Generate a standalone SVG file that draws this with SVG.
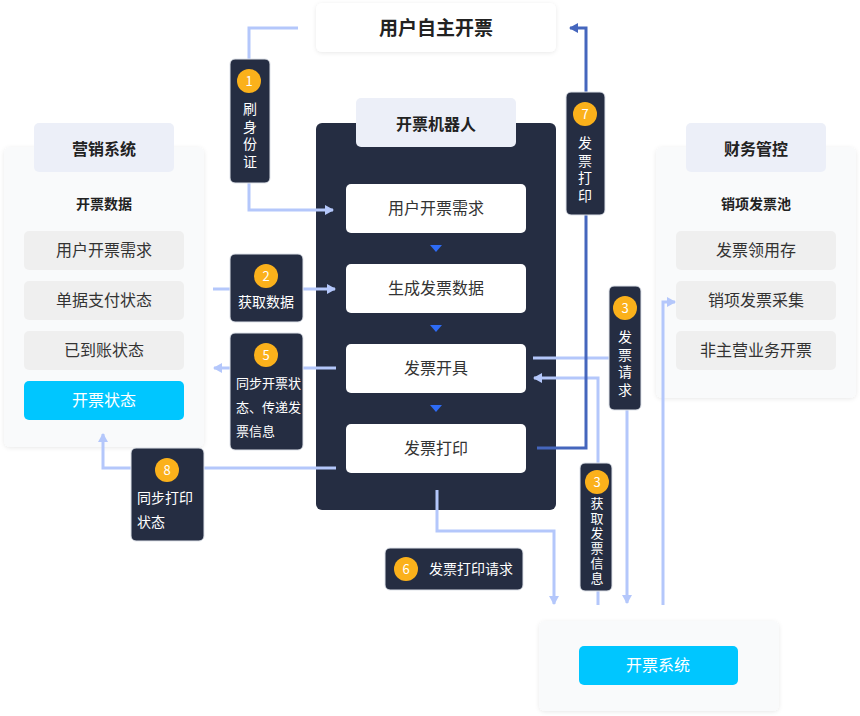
<svg xmlns="http://www.w3.org/2000/svg" width="860" height="716" viewBox="0 0 860 716">
<style>
text{font-family:"Noto Sans CJK SC","Noto Sans",sans-serif;}
.panel{fill:#f9fafb;}
.tab{fill:#eceff8;}
.item{fill:#efefef;}
.itemt{font-size:16px;fill:#333;text-anchor:middle;}
.cyan{fill:#00c6ff;}
.cyant{font-size:16px;fill:#fff;text-anchor:middle;}
.dark{fill:#252d42;}
.white{fill:#fff;}
.ht{font-size:16px;font-weight:bold;fill:#222;text-anchor:middle;}
.sub{font-size:14px;font-weight:bold;fill:#222;text-anchor:middle;}
.lbl{fill:#252d42;stroke:#dfe3ea;stroke-width:1;}
.num{fill:#fbb11b;}
.numt{font-size:13px;fill:#fff;text-anchor:middle;}
.lt{font-size:14px;fill:#fff;}
.lts{font-size:13px;fill:#fff;}
.vt{font-size:14px;fill:#fff;writing-mode:vertical-rl;letter-spacing:3.5px;}
.vts{font-size:13px;fill:#fff;writing-mode:vertical-rl;letter-spacing:2px;}
.tri{fill:#2e6cf6;}
.lb{fill:none;stroke:#b4c7fb;stroke-width:3;}
.db{fill:none;stroke:#4566bd;stroke-width:3;}
</style>
<defs>
<filter id="sh" x="-10%" y="-10%" width="120%" height="120%">
<feDropShadow dx="0" dy="1" stdDeviation="2" flood-color="#000" flood-opacity="0.09"/>
</filter>
<marker id="al" markerUnits="userSpaceOnUse" markerWidth="9" markerHeight="10" refX="8" refY="5" orient="auto">
<path d="M0,0 L9,5 L0,10 z" fill="#b4c7fb"/>
</marker>
<marker id="ad" markerUnits="userSpaceOnUse" markerWidth="9" markerHeight="10" refX="8" refY="5" orient="auto">
<path d="M0,0 L9,5 L0,10 z" fill="#4566bd"/>
</marker>
</defs>
<rect width="860" height="716" fill="#fff"/>

<g id="top">
<rect x="316" y="3" width="240" height="49" rx="6" class="white" filter="url(#sh)"/>
<text x="436" y="35" style="font-size:19px;font-weight:bold;fill:#222;text-anchor:middle">用户自主开票</text>
</g>

<g id="marketing">
<rect x="4" y="147" width="200" height="300" rx="6" class="panel" filter="url(#sh)"/>
<rect x="34" y="123" width="140" height="49" rx="5" class="tab"/>
<text x="104" y="155" class="ht">营销系统</text>
<text x="104" y="209" class="sub">开票数据</text>
<rect x="24" y="231" width="160" height="39" rx="5" class="item"/>
<text x="104" y="256" class="itemt">用户开票需求</text>
<rect x="24" y="281" width="160" height="39" rx="5" class="item"/>
<text x="104" y="306" class="itemt">单据支付状态</text>
<rect x="24" y="331" width="160" height="39" rx="5" class="item"/>
<text x="104" y="356" class="itemt">已到账状态</text>
<rect x="24" y="381" width="160" height="39" rx="5" class="cyan"/>
<text x="104" y="406" class="cyant">开票状态</text>
</g>

<g id="finance">
<rect x="656" y="147" width="200" height="251" rx="6" class="panel" filter="url(#sh)"/>
<rect x="686" y="123" width="140" height="49" rx="5" class="tab"/>
<text x="756" y="155" class="ht">财务管控</text>
<text x="756" y="209" class="sub">销项发票池</text>
<rect x="676" y="231" width="160" height="39" rx="5" class="item"/>
<text x="756" y="256" class="itemt">发票领用存</text>
<rect x="676" y="281" width="160" height="39" rx="5" class="item"/>
<text x="756" y="306" class="itemt">销项发票采集</text>
<rect x="676" y="331" width="160" height="39" rx="5" class="item"/>
<text x="756" y="356" class="itemt">非主营业务开票</text>
</g>

<g id="invoice-system">
<rect x="539" y="621" width="240" height="90" rx="6" class="panel" filter="url(#sh)"/>
<rect x="579" y="646" width="159" height="39" rx="5" class="cyan"/>
<text x="658" y="671" class="cyant">开票系统</text>
</g>

<g id="robot">
<rect x="316" y="123" width="240" height="387" rx="6" class="dark"/>
<rect x="356" y="98" width="160" height="49" rx="5" class="tab"/>
<text x="436" y="130" class="ht">开票机器人</text>
<rect x="346" y="184" width="180" height="49" rx="5" class="white"/>
<text x="436" y="214" class="itemt">用户开票需求</text>
<rect x="346" y="264" width="180" height="49" rx="5" class="white"/>
<text x="436" y="294" class="itemt">生成发票数据</text>
<rect x="346" y="344" width="180" height="49" rx="5" class="white"/>
<text x="436" y="374" class="itemt">发票开具</text>
<rect x="346" y="424" width="180" height="49" rx="5" class="white"/>
<text x="436" y="454" class="itemt">发票打印</text>
<path d="M430,245 H442 L436,252 z" class="tri"/>
<path d="M430,325 H442 L436,332 z" class="tri"/>
<path d="M430,405 H442 L436,412 z" class="tri"/>
</g>

<g id="connectors">
<path d="M298,28 H249 V210 H333" class="lb" marker-end="url(#al)"/>
<path d="M213,289 H335" class="lb" marker-end="url(#al)"/>
<path d="M336,368 H214" class="lb" marker-end="url(#al)"/>
<path d="M336,468 H103 V434" class="lb" marker-end="url(#al)"/>
<path d="M437,490 V531 H554 V604" class="lb" marker-end="url(#al)"/>
<path d="M533,358 H627 V603" class="lb" marker-end="url(#al)"/>
<path d="M598,605 V378 H534" class="lb" marker-end="url(#al)"/>
<path d="M663,605 V302 H675" class="lb" marker-end="url(#al)"/>
<path d="M537,448 H586 V28 H570" class="db" marker-end="url(#ad)"/>
</g>

<g id="label1">
<rect x="230" y="59" width="40" height="124" rx="5" class="lbl"/>
<circle cx="249" cy="81" r="12" class="num"/>
<text x="249" y="86" class="numt">1</text>
<text x="250" y="102" class="vt">刷身份证</text>
</g>

<g id="label2">
<rect x="230" y="254" width="73" height="68" rx="5" class="lbl"/>
<circle cx="266" cy="276" r="12" class="num"/>
<text x="266" y="281" class="numt">2</text>
<text x="266" y="307" class="lt" text-anchor="middle">获取数据</text>
</g>

<g id="label5">
<rect x="230" y="333" width="73" height="117" rx="5" class="lbl"/>
<circle cx="266" cy="355" r="12" class="num"/>
<text x="266" y="360" class="numt">5</text>
<text x="236" y="388" class="lts">同步开票状</text>
<text x="236" y="412" class="lts">态、传递发</text>
<text x="236" y="436" class="lts">票信息</text>
</g>

<g id="label8">
<rect x="131" y="448" width="73" height="93" rx="5" class="lbl"/>
<circle cx="167" cy="470" r="12" class="num"/>
<text x="167" y="475" class="numt">8</text>
<text x="137" y="503" class="lt">同步打印</text>
<text x="137" y="527" class="lt">状态</text>
</g>

<g id="label6">
<rect x="385" y="548" width="138" height="42" rx="5" class="lbl"/>
<circle cx="406" cy="569" r="12" class="num"/>
<text x="406" y="574" class="numt">6</text>
<text x="429" y="574" class="lt">发票打印请求</text>
</g>

<g id="label7">
<rect x="566" y="92" width="39" height="123" rx="5" class="lbl"/>
<circle cx="585" cy="114" r="12" class="num"/>
<text x="585" y="119" class="numt">7</text>
<text x="585" y="136" class="vt">发票打印</text>
</g>

<g id="label3a">
<rect x="609" y="286" width="32" height="124" rx="5" class="lbl"/>
<circle cx="625" cy="308" r="12" class="num"/>
<text x="625" y="313" class="numt">3</text>
<text x="625" y="330" class="vt">发票请求</text>
</g>

<g id="label3b">
<rect x="580" y="463" width="32" height="128" rx="5" class="lbl"/>
<circle cx="597" cy="482" r="12" class="num"/>
<text x="597" y="487" class="numt">3</text>
<text x="597" y="497" class="vts">获取发票信息</text>
</g>
</svg>
